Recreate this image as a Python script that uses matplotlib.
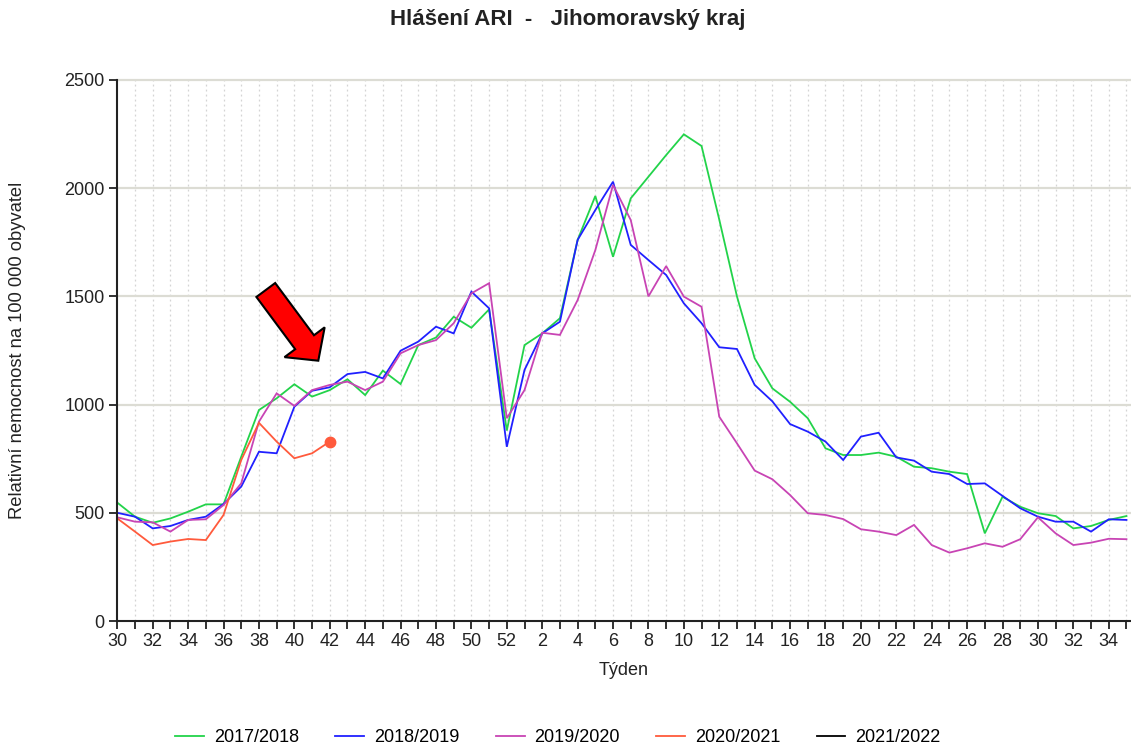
import matplotlib
matplotlib.use("Agg")
import matplotlib.pyplot as plt
from matplotlib.patches import Polygon
import numpy as np

plt.rcParams['font.family'] = ['Liberation Sans', 'DejaVu Sans']

weeks = list(range(30, 53)) + list(range(1, 36))

s2017 = [547, 482, 454, 474, 505, 539, 539, 759, 975, 1029, 1094, 1037, 1067, 1117, 1044,
         1157, 1095, 1275, 1310, 1406, 1355, 1440, 880, 1275, 1329, 1399, 1761, 1964, 1683,
         1953, 2053, 2153, 2249, 2195, 1855, 1500, 1214, 1075, 1013, 937, 798, 767, 767, 778,
         759, 713, 706, 690, 679, 405, 574, 528, 498, 485, 428, 439, 467, 485]
s2018 = [500, 482, 428, 439, 467, 482, 541, 621, 782, 775, 990, 1064, 1080, 1141, 1151,
         1121, 1249, 1291, 1360, 1329, 1522, 1445, 805, 1160, 1329, 1383, 1761, 1899, 2030,
         1738, 1668, 1599, 1468, 1376, 1265, 1257, 1091, 1015, 910, 875, 829, 744, 852, 870,
         756, 741, 690, 679, 633, 636, 578, 521, 482, 459, 459, 413, 470, 467]
s2019 = [479, 459, 456, 413, 467, 470, 536, 636, 921, 1052, 994, 1067, 1091, 1106, 1067,
         1106, 1237, 1275, 1298, 1376, 1514, 1561, 937, 1067, 1332, 1322, 1483, 1714, 2015,
         1853, 1500, 1640, 1499, 1452, 944, 821, 695, 655, 582, 498, 490, 471, 424, 413,
         397, 444, 351, 316, 336, 359, 343, 378, 479, 405, 351, 362, 380, 378]
s2020 = [474, 413, 351, 367, 379, 374, 490, 744, 916, 829, 752, 775, 829]
s2021 = []

labels = ['2017/2018', '2018/2019', '2019/2020', '2020/2021', '2021/2022']
colors = ['#22d34a', '#2020ff', '#c844b4', '#ff5a3c', '#000000']
series = [s2017, s2018, s2019, s2020, s2021]

W, H = 1131, 748
fig = plt.figure(figsize=(W / 100, H / 100), dpi=100)
left, right, top, bottom = 117.3, 1130, 80, 621
ax = fig.add_axes([left / W, 1 - bottom / H, (right - left) / W, (bottom - top) / H])

x_all = np.arange(len(weeks))
handles = []
for vals, lab, col in zip(series, labels, colors):
    xs = x_all[:len(vals)]
    h, = ax.plot(xs, vals, color=col, lw=1.3, label=lab, solid_joinstyle='miter')
    handles.append(h)
ax.plot([len(s2020) - 1], [s2020[-1]], 'o', color=colors[3], ms=7.5, zorder=5)

ax.set_xlim(0, 57.2)
ax.set_ylim(0, 2500)
ax.set_xticks(x_all)
ax.set_xticklabels([str(w) if i % 2 == 0 else '' for i, w in enumerate(weeks)])
ax.set_yticks([0, 500, 1000, 1500, 2000, 2500])
ax.tick_params(axis='both', length=6, width=1.3, color='#222222', labelsize=13,
               labelcolor='#222222')
ax.tick_params(axis='x', pad=3)
ax.tick_params(axis='y', pad=3)

for sp in ['top', 'right']:
    ax.spines[sp].set_visible(False)
for sp in ['left', 'bottom']:
    ax.spines[sp].set_color('#222222')
    ax.spines[sp].set_linewidth(1.5)

for i in x_all[1:]:
    ax.axvline(i, color='#d4d4d4', lw=0.9, ls=(0, (1.5, 2.5)), zorder=0)
for yv in [500, 1000, 1500, 2000, 2500]:
    ax.axhline(yv, color='#dcdcd4', lw=1.6, zorder=0, clip_on=False)

ax.set_xlabel('Týden', fontsize=13, color='#222222', labelpad=8)
ax.set_ylabel('Relativní nemocnost na 100 000 obyvatel', fontsize=13.2, color='#222222')
ax.yaxis.set_label_coords((26 - left) / (right - left), 0.5)

fig.text(568 / W, 1 - 20 / H, 'Hlášení ARI  -   Jihomoravský kraj', ha='center', va='center',
         fontsize=16, fontweight='bold', color='#222222')

fig.legend(handles=handles, labels=labels, loc='center', ncol=5, frameon=False,
           bbox_to_anchor=(558 / W, 1 - 738 / H), fontsize=13, handlelength=1.6,
           handletextpad=0.55, columnspacing=2.0)

# red arrow annotation (pixel geometry)
T = np.array([265.8, 290.0])
tip = np.array([318.3, 360.7])
d = tip - T
L = np.hypot(*d)
u = d / L
p = np.array([u[1], -u[0]])
hw, hh, head = 11.7, 25.0, 23.0
B = tip - u * head
pts = [T + hw * p, B + hw * p, B + hh * p, tip, B - hh * p, B - hw * p, T - hw * p]
pts = [(px / W, 1 - py / H) for px, py in pts]
arrow = Polygon(pts, closed=True, facecolor='#ff0000', edgecolor='black', lw=1.5,
                transform=fig.transFigure, zorder=10)
fig.add_artist(arrow)

fig.savefig('out.png', dpi=100)
